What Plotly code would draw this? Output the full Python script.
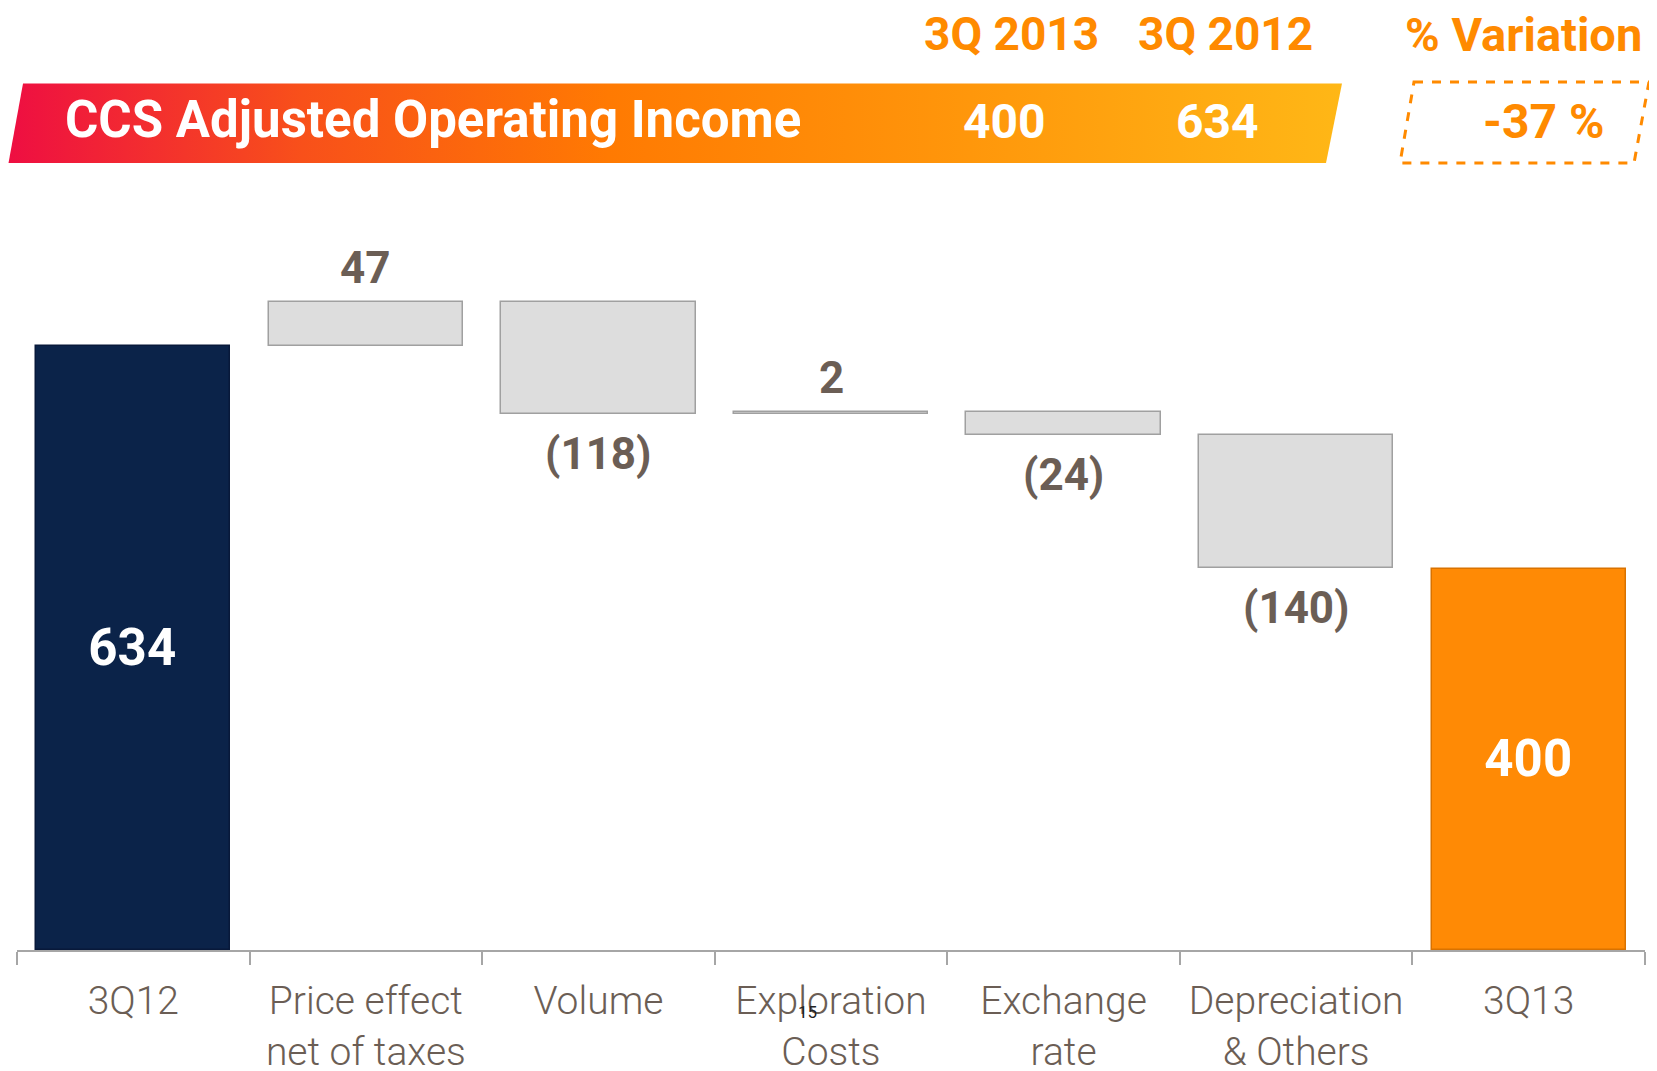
import plotly.graph_objects as go

# ---------------- data ----------------
categories = ["3Q12", "Price effect<br>net of taxes", "Volume", "Exploration<br>Costs",
              "Exchange<br>rate", "Depreciation<br>& Others", "3Q13"]
start_value = 634
deltas = [47, -118, 2, -24, -140]
end_value = 400

header_title = "CCS Adjusted Operating Income"
header_cols = ["3Q 2013", "3Q 2012", "% Variation"]
header_values = [400, 634]
variation_pct = -37

# ---------------- styles ----------------
NAVY = "#0B2349"
ORANGE = "#FF8A05"
GRAY_FILL = "#DDDDDD"
GRAY_LINE = "#A0A0A0"
LABEL_COL = "#6B5E55"
HEAD_ORANGE = "#FF8A00"
FONT = "Roboto"

W, H = 1657, 1071
OFF = 8                 # page offset of the plot div (body margin)
BASE_PX = 950 - OFF     # figure pixel y of the axis baseline
PLOT_TOP_PX = 200 - OFF
PX_PER_UNIT = 0.952

# waterfall geometry from the data
bases, heights = [], []
running = start_value
for d in deltas:
    bases.append(running if d >= 0 else running + d)
    heights.append(abs(d))
    running += d

def fmt(v):
    return f"({abs(v)})" if v < 0 else f"{v}"

fig = go.Figure()

# totals
fig.add_trace(go.Bar(
    x=[categories[0], categories[-1]], y=[start_value, end_value],
    width=0.835,
    marker=dict(color=[NAVY, ORANGE], line=dict(color=["#08193A", "#D97200"], width=1.5)),
    text=[str(start_value), str(end_value)], textposition="inside",
    insidetextanchor="middle",
    textfont=dict(family=FONT, size=51, color="white", weight=700),
    hoverinfo="skip", showlegend=False,
))

# deltas
fig.add_trace(go.Bar(
    x=categories[1:-1], y=heights, base=bases, width=0.835,
    marker=dict(color=GRAY_FILL, line=dict(color=GRAY_LINE, width=1.5)),
    hoverinfo="skip", showlegend=False,
))

annotations = []
lab_font = dict(family=FONT, size=44, color=LABEL_COL, weight=700)
for cat, b, h, d in zip(categories[1:-1], bases, heights, deltas):
    if d >= 0:
        annotations.append(dict(x=cat, y=b + h, xref="x", yref="y", text=fmt(d),
                                showarrow=False, yanchor="middle", yshift=34, font=lab_font))
    else:
        annotations.append(dict(x=cat, y=b, xref="x", yref="y", text=fmt(d),
                                showarrow=False, yanchor="middle", yshift=-40, font=lab_font))

# header banner (gradient parallelogram) on a page-pixel overlay axis
fig.add_trace(go.Scatter(
    x=[23, 1342, 1326, 8.5, 23], y=[83.5, 83.5, 163, 163, 83.5],
    xaxis="x2", yaxis="y2", mode="lines", line=dict(width=0),
    fill="toself",
    fillgradient=dict(type="horizontal",
                      colorscale=[[0, "#EE0E42"], [0.22, "#F8501A"], [0.45, "#FF7A02"],
                                  [0.75, "#FF9A0C"], [1, "#FFB716"]]),
    hoverinfo="skip", showlegend=False,
))

head_font = dict(family=FONT, size=48, color="white", weight=700)
annotations += [
    dict(x=63, y=119, xref="x2", yref="y2", text=header_title, showarrow=False,
         xanchor="left", yanchor="middle", font=dict(family=FONT, size=51, color="white", weight=700)),
    dict(x=1004, y=121, xref="x2", yref="y2", text=str(header_values[0]), showarrow=False,
         font=head_font),
    dict(x=1217, y=121, xref="x2", yref="y2", text=str(header_values[1]), showarrow=False,
         font=head_font),
    dict(x=1543, y=121, xref="x2", yref="y2", text=f"{variation_pct} %", showarrow=False,
         font=dict(family=FONT, size=48, color=HEAD_ORANGE, weight=700)),
]
for txt, xc, sz in zip(header_cols, [1011, 1225, 1523], [46, 46, 47]):
    annotations.append(dict(x=xc, y=34, xref="x2", yref="y2", text=txt, showarrow=False,
                            font=dict(family=FONT, size=sz, color=HEAD_ORANGE, weight=700)))

# page number (below the plot area -> paper coordinates)
annotations.append(dict(x=807, y=-(1012 - 950) / BASE_PX, xref="x2", yref="paper", text="15",
                        showarrow=False, yanchor="middle",
                        font=dict(family=FONT, size=17, color="#222222")))

shapes = [dict(type="path", xref="x2", yref="y2",
               path="M 1414 82 L 1649 82 L 1634 163 L 1400 163 Z",
               line=dict(color=HEAD_ORANGE, width=3, dash="dash"))]

plot_h = BASE_PX - PLOT_TOP_PX
fig.update_layout(
    width=W, height=H,
    margin=dict(l=0, r=0, t=0, b=H - BASE_PX, pad=0),
    paper_bgcolor="white", plot_bgcolor="rgba(0,0,0,0)",
    barmode="overlay", bargap=0,
    annotations=annotations, shapes=shapes,
    xaxis=dict(domain=[(17 - OFF) / W, (1645 - OFF) / W], range=[-0.5, 6.5], type="category",
               categoryorder="array", categoryarray=categories,
               showline=True, linecolor="#A6A6A6", linewidth=2,
               ticks="outside", tickson="boundaries", ticklen=13, tickcolor="#A6A6A6",
               tickwidth=1.5, showgrid=False, zeroline=False,
               ticklabelstandoff=15,
               tickfont=dict(family=FONT, size=39, color=LABEL_COL, weight=300)),
    yaxis=dict(domain=[0, plot_h / BASE_PX], range=[0, plot_h / PX_PER_UNIT],
               visible=False, fixedrange=True),
    xaxis2=dict(domain=[0, 1], range=[OFF, W + OFF], visible=False, anchor="y2"),
    yaxis2=dict(domain=[0, 1], range=[BASE_PX + OFF, OFF], visible=False, anchor="x2"),
)

fig.write_html("out.html")
